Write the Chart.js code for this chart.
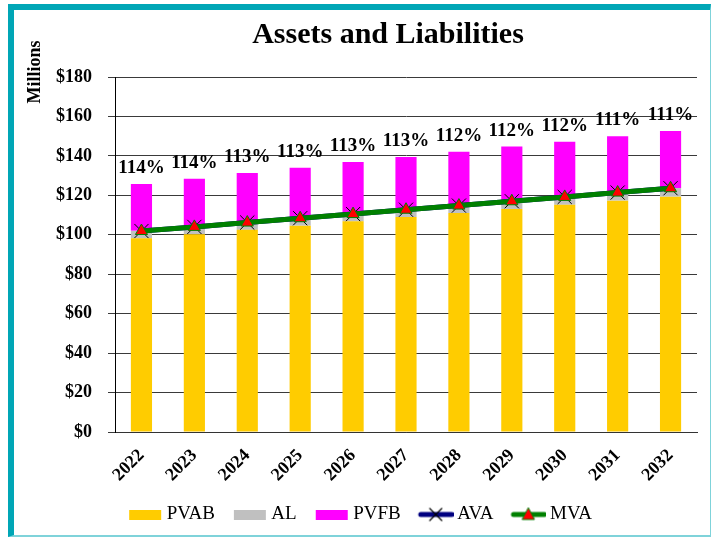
<!DOCTYPE html>
<html>
<head>
<meta charset="utf-8">
<script src="https://cdn.jsdelivr.net/npm/chart.js@4"></script>
<style>
  html, body { margin: 0; padding: 0; background: #fff; }
  #wrap { position: relative; width: 713px; height: 538px; }
  #frame {
    position: absolute; left: 8px; top: 4px; width: 696px; height: 525px;
    border-left: 6px solid #00a6b6; border-top: 6px solid #00a6b6;
    border-right: 1px solid #7fd3da; border-bottom: 2px solid #7fd3da;
    pointer-events: none;
  }
  canvas { position: absolute; left: 24px; top: 0; }
</style>
</head>
<body>
<div id="wrap">
  <canvas id="chart" width="689" height="538"></canvas>
  <div id="frame"></div>
</div>
<script>
// Données (millions)
const years = ['2022', '2023', '2024', '2025', '2026', '2027', '2028', '2029', '2030', '2031', '2032'];
const pvab = [98.2, 100.3, 102.5, 104.6, 106.8, 109.0, 111.0, 113.1, 115.2, 117.3, 119.3];
const al   = [102.0, 104.1, 106.3, 108.5, 110.6, 112.8, 114.9, 117.1, 119.3, 121.5, 123.7];
const pvfb = [125.7, 128.4, 131.3, 134.0, 136.9, 139.4, 142.1, 144.7, 147.2, 149.9, 152.6];
const ava  = [101.9, 104.0, 106.2, 108.4, 110.5, 112.7, 114.8, 117.0, 119.2, 121.4, 123.6];
const mva  = [101.9, 104.0, 106.2, 108.4, 110.5, 112.7, 114.8, 117.0, 119.2, 121.4, 123.6];
const ratioLabels = ['114%', '114%', '113%', '113%', '113%', '113%', '112%', '112%', '112%', '111%', '111%'];
const yTicks = [0, 20, 40, 60, 80, 100, 120, 140, 160, 180];

const SERIF = '"Liberation Serif", "Times New Roman", serif';
const OFFSET = 24; // décalage du canvas dans la page

// Segments empilés : PVAB, AL - PVAB, PVFB - AL
const alPart = al.map((v, i) => +(v - pvab[i]).toFixed(2));
const pvfbPart = pvfb.map((v, i) => +(v - al[i]).toFixed(2));

// Petites images pour la légende (marge transparente à gauche)
function boxIcon(color) {
  const c = document.createElement('canvas');
  c.width = 40; c.height = 10;
  const g = c.getContext('2d');
  g.fillStyle = color;
  g.fillRect(6, 0, 32, 10);
  return c;
}
function lineIcon(lineColor, marker) {
  const c = document.createElement('canvas');
  c.width = 40; c.height = 16;
  const g = c.getContext('2d');
  g.strokeStyle = lineColor;
  g.lineWidth = 5;
  g.lineCap = 'round';
  g.beginPath(); g.moveTo(7, 8); g.lineTo(38, 8); g.stroke();
  if (marker === 'x') {
    g.strokeStyle = '#000'; g.lineWidth = 1.2;
    g.beginPath();
    g.moveTo(16, 2); g.lineTo(28, 14);
    g.moveTo(28, 2); g.lineTo(16, 14);
    g.stroke();
  } else {
    g.fillStyle = '#ff0000'; g.strokeStyle = '#008000'; g.lineWidth = 1;
    g.beginPath();
    g.moveTo(22, 1.5); g.lineTo(28, 13); g.lineTo(16, 13); g.closePath();
    g.fill(); g.stroke();
  }
  return c;
}

// Titre, "Millions" et pourcentages au-dessus des barres
const extraText = {
  id: 'extraText',
  afterDatasetsDraw(chart) {
    const ctx = chart.ctx;
    ctx.save();
    ctx.fillStyle = '#000';
    ctx.textAlign = 'center';
    ctx.textBaseline = 'alphabetic';
    ctx.font = 'bold 30px ' + SERIF;
    ctx.fillText('Assets and Liabilities', 388 - OFFSET, 43);

    ctx.save();
    ctx.translate(40 - OFFSET, 72);
    ctx.rotate(-Math.PI / 2);
    ctx.font = 'bold 18px ' + SERIF;
    ctx.fillText('Millions', 0, 0);
    ctx.restore();

    const meta = chart.getDatasetMeta(2);
    ctx.font = 'bold 19px ' + SERIF;
    meta.data.forEach((bar, i) => {
      ctx.fillText(ratioLabels[i], bar.x, bar.y - 11);
    });
    ctx.restore();
  }
};

const ctx = document.getElementById('chart').getContext('2d');
new Chart(ctx, {
  type: 'bar',
  data: {
    labels: years,
    datasets: [
      { label: 'PVAB', data: pvab, backgroundColor: '#ffcc00', stack: 'bars', order: 3,
        barPercentage: 0.4, categoryPercentage: 1, pointStyle: boxIcon('#ffcc00') },
      { label: 'AL', data: alPart, backgroundColor: '#c0c0c0', stack: 'bars', order: 4,
        barPercentage: 0.4, categoryPercentage: 1, pointStyle: boxIcon('#c0c0c0') },
      { label: 'PVFB', data: pvfbPart, backgroundColor: '#ff00ff', stack: 'bars', order: 5,
        barPercentage: 0.4, categoryPercentage: 1, pointStyle: boxIcon('#ff00ff') },
      { type: 'line', label: 'AVA', data: ava, stack: 'ava', order: 2,
        borderColor: '#000080', borderWidth: 5, pointStyle: 'crossRot', pointRadius: 10,
        pointBorderColor: '#000', pointBorderWidth: 1, pointBackgroundColor: '#000' },
      { type: 'line', label: 'MVA', data: mva, stack: 'mva', order: 1,
        borderColor: '#008000', borderWidth: 5, pointStyle: 'triangle', pointRadius: 7,
        pointBackgroundColor: '#ff0000', pointBorderColor: '#008000', pointBorderWidth: 1 }
    ]
  },
  options: {
    responsive: false,
    animation: false,
    layout: { padding: { top: 77, right: 16, left: 0, bottom: 4 } },
    scales: {
      x: {
        stacked: true,
        grid: { display: false },
        border: { color: '#333', width: 1 },
        ticks: {
          color: '#000', font: { family: SERIF, size: 18, weight: 'bold' },
          minRotation: 45, maxRotation: 45, padding: 5, autoSkip: false
        },
        afterFit(scale) { scale.height = 54; }
      },
      y: {
        stacked: true,
        min: 0, max: 180,
        afterBuildTicks(scale) { scale.ticks = yTicks.map(v => ({ value: v })); },
        grid: { color: '#3a3a3a', lineWidth: 1, tickLength: 7, drawTicks: true },
        border: { color: '#000', width: 1 },
        ticks: {
          color: '#000', font: { family: SERIF, size: 18, weight: 'bold' },
          padding: 16,
          callback: v => '$' + v
        },
        afterFit(scale) { scale.width = 115 - OFFSET; }
      }
    },
    plugins: {
      title: { display: false },
      tooltip: { enabled: false },
      legend: {
        position: 'bottom',
        labels: {
          usePointStyle: true,
          pointStyleWidth: 28,
          color: '#000',
          font: { family: SERIF, size: 19 },
          padding: 19,
          sort: (a, b) => a.datasetIndex - b.datasetIndex,
          generateLabels(chart) {
            const base = Chart.defaults.plugins.legend.labels.generateLabels(chart);
            base.forEach(l => {
              if (l.text === 'AVA') l.pointStyle = lineIcon('#000080', 'x');
              if (l.text === 'MVA') l.pointStyle = lineIcon('#008000', 'tri');
            });
            return base;
          }
        }
      }
    }
  },
  plugins: [extraText]
});
</script>
</body>
</html>
